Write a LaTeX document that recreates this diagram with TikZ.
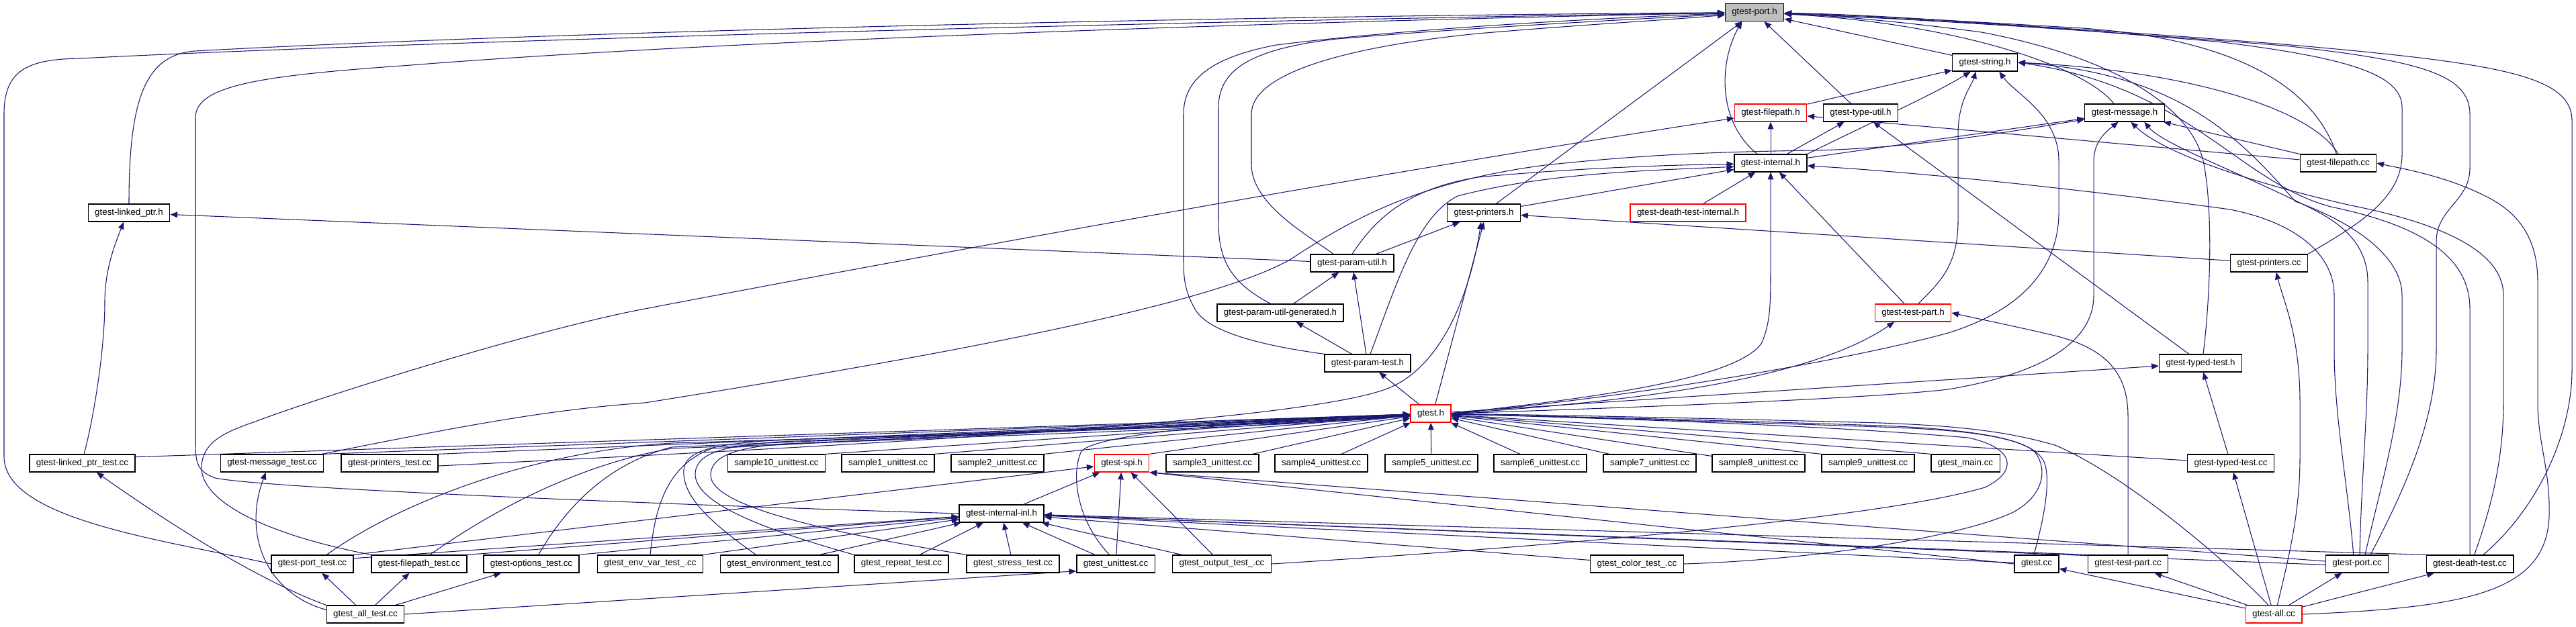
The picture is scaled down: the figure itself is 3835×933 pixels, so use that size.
\documentclass[tikz,border=0pt]{standalone}
\usepackage{fontspec}
\setmainfont{Liberation Sans}
\usetikzlibrary{arrows.meta}
\pgfdeclarelayer{bg}
\pgfsetlayers{bg,main}
\definecolor{eb}{HTML}{191970}
\definecolor{gf}{HTML}{BFBFBF}
\tikzset{
  nd/.style={draw=black, line width=1pt, fill=white, rectangle, minimum height=19.5pt, inner xsep=7.5pt, inner ysep=0pt, font=\fontsize{10}{12}\selectfont},
  rd/.style={nd, draw=red},
  gn/.style={nd, fill=gf},
  e/.style={draw=eb, line width=0.8pt, -{Triangle[length=8pt,width=6.5pt]}},
}
\begin{document}
\begin{tikzpicture}[x=0.75pt,y=-0.75pt]
\useasboundingbox (0,0) rectangle (3835,933);
% ---------------- nodes ----------------
\node[gn] (port) at (2612,18.5) {gtest-port.h};
\node[nd] (strh) at (2955,93) {gtest-string.h};
\node[rd] (fph) at (2636,168) {gtest-filepath.h};
\node[nd] (tu) at (2770,168) {gtest-type-util.h};
\node[nd] (msg) at (3163,168) {gtest-message.h};
\node[nd] (intl) at (2636,243) {gtest-internal.h};
\node[nd] (fpcc) at (3481,243) {gtest-filepath.cc};
\node[nd] (prh) at (2209,317) {gtest-printers.h};
\node[rd] (dti) at (2513,317) {gtest-death-test-internal.h};
\node[nd] (lp) at (192,317) {gtest-linked\_ptr.h};
\node[nd] (pu) at (2013,392) {gtest-param-util.h};
\node[nd] (prcc) at (3378,392) {gtest-printers.cc};
\node[nd] (pug) at (1906,466) {gtest-param-util-generated.h};
\node[rd] (tph) at (2848,466) {gtest-test-part.h};
\node[nd] (pt) at (2036,541) {gtest-param-test.h};
\node[nd] (tth) at (3276,541) {gtest-typed-test.h};
\node[rd] (gt) at (2130,616) {gtest.h};
% row 690
\node[nd] (lpt) at (122.5,690) {gtest-linked\_ptr\_test.cc};
\node[nd] (mt) at (405,690) {gtest-message\_test.cc};
\node[nd] (prt) at (580,690) {gtest-printers\_test.cc};
\node[nd] (sa) at (1156,690) {sample10\_unittest.cc};
\node[nd] (sb) at (1322,690) {sample1\_unittest.cc};
\node[nd] (sc) at (1485,690) {sample2\_unittest.cc};
\node[rd] (spi) at (1670,690) {gtest-spi.h};
\node[nd] (sd) at (1805,690) {sample3\_unittest.cc};
\node[nd] (se) at (1967,690) {sample4\_unittest.cc};
\node[nd] (sf) at (2131,690) {sample5\_unittest.cc};
\node[nd] (sg) at (2293,690) {sample6\_unittest.cc};
\node[nd] (sh) at (2456,690) {sample7\_unittest.cc};
\node[nd] (si) at (2618,690) {sample8\_unittest.cc};
\node[nd] (sj) at (2781,690) {sample9\_unittest.cc};
\node[nd] (gm) at (2926,690) {gtest\_main.cc};
\node[nd] (ttcc) at (3321,690) {gtest-typed-test.cc};
% inl
\node[nd] (inl) at (1491,765) {gtest-internal-inl.h};
% row 840
\node[nd] (ptt) at (465,840) {gtest-port\_test.cc};
\node[nd] (fpt) at (624,840) {gtest-filepath\_test.cc};
\node[nd] (ot) at (791,840) {gtest-options\_test.cc};
\node[nd] (ev) at (968,840) {gtest\_env\_var\_test\_.cc};
\node[nd] (envt) at (1160,840) {gtest\_environment\_test.cc};
\node[nd] (rep) at (1342,840) {gtest\_repeat\_test.cc};
\node[nd] (stt) at (1508,840) {gtest\_stress\_test.cc};
\node[nd] (ut) at (1661,840) {gtest\_unittest.cc};
\node[nd] (outt) at (1819,840) {gtest\_output\_test\_.cc};
\node[nd] (colt) at (2437,840) {gtest\_color\_test\_.cc};
\node[nd] (gcc) at (3032,840) {gtest.cc};
\node[nd] (tpcc) at (3168,840) {gtest-test-part.cc};
\node[nd] (pcc) at (3509,840) {gtest-port.cc};
\node[nd] (dtcc) at (3677,840) {gtest-death-test.cc};
% row 915
\node[nd] (alltest) at (544,915) {gtest\_all\_test.cc};
\node[rd] (gall) at (3385,915) {gtest-all.cc};
% ---------------- edges ----------------
\begin{pgfonlayer}{bg}
% headers
\draw[e] (strh) -- (port);
\draw[e] (fph) -- (strh);
\draw[e] (tu) -- (port);
\draw[e] ([xshift=-12pt]msg.north) .. controls (3100,95) and (2900,34) .. (port);
\draw[e] ([xshift=-15pt]intl.north) .. controls (2555,180) and (2560,90) .. ([xshift=-14pt]port.south);
\draw[e] (intl) -- (fph);
\draw[e] (intl) -- (tu);
\draw[e] (intl) -- (msg);
\draw[e] (intl.north east) .. controls (2780,185) and (2880,140) .. ([xshift=-16pt]strh.south);
\draw[e] (dti) -- (intl);
\draw[e] (prh) -- (intl);
\draw[e] (prh) -- (port);
\draw[e] (lp.north) .. controls (192,150) and (215,82) .. (290,76) .. controls (800,48) and (1800,24) .. (port);
\draw[e] (pu) -- (lp);
\draw[e] (pu) -- (prh);
\draw[e] (pu.north) .. controls (2045,330) and (2090,282) .. (2200,264) .. controls (2350,250) and (2480,246) .. ([yshift=-1pt]intl.west);
\draw[e] ([xshift=-21pt]pu.north) .. controls (1950,352) and (1863,305) .. (1863,245) -- (1863,170) .. controls (1863,110) and (2000,70) .. (2200,50) .. controls (2350,37) and (2480,30) .. (port);
\draw[e] (pug) -- (pu);
\draw[e] ([xshift=-11pt]pug.north) .. controls (1830,420) and (1814,385) .. (1814,330) -- (1814,160) .. controls (1814,100) and (1870,72) .. (1990,58) .. controls (2200,40) and (2450,28) .. (port);
\draw[e] (pt) -- (pug);
\draw[e] (pt) -- (pu);
\draw[e] ([xshift=3pt]pt.north) .. controls (2080,420) and (2110,322) .. (2170,292) .. controls (2300,258) and (2450,254) .. ([yshift=-4pt]intl.west);
\draw[e] (pt.north west) .. controls (1880,515) and (1800,495) .. (1780,462) .. controls (1766,438) and (1762,420) .. (1762,390) -- (1762,170) .. controls (1762,120) and (1800,86) .. (1900,67) .. controls (2100,42) and (2400,26) .. (port);
\draw[e] (tph) -- (intl);
\draw[e] ([xshift=6pt]tph.north) .. controls (2882,425) and (2915,400) .. (2915,330) -- (2915,200) .. controls (2915,150) and (2935,128) .. ([xshift=-10pt]strh.south);
\draw[e] ([xshift=-13pt]tth.north) -- ([xshift=14pt]tu.south);
\draw[e] ([xshift=3pt]tth.north) .. controls (3293,420) and (3293,300) .. (3280,240) .. controls (3262,160) and (3150,86) .. (2950,48) .. controls (2800,28) and (2700,22) .. (port);
\draw[e] (gt) -- (pt);
\draw[e] ([xshift=5pt]gt.north) -- (prh.south);
\draw[e] (gt.east) .. controls (2400,590) and (2585,562) .. (2622,512) .. controls (2636,482) and (2636,450) .. (2636,400) -- (intl.south);
\draw[e] (gt.east) .. controls (2450,598) and (2700,562) .. ([xshift=-21pt]tph.south);
\draw[e] (gt.east) .. controls (2500,585) and (2800,524) .. (2900,496) .. controls (3010,462) and (3063,400) .. (3065,320) -- (3065,240) .. controls (3065,170) and (3000,140) .. ([xshift=16pt]strh.south);
\draw[e] (gt.east) .. controls (2500,605) and (2800,592) .. (2900,580) .. controls (3050,555) and (3117,505) .. (3117,440) -- (3117,240) .. controls (3117,215) and (3130,200) .. ([xshift=-7pt]msg.south);
\draw[e] (gt) -- (tth);
% row 690
\draw[e] ([yshift=7pt]lpt.east) -- (gt);
\draw[e] ([xshift=2pt]lpt.north) .. controls (140,620) and (156,520) .. (156,450) .. controls (156,400) and (172,362) .. ([xshift=-6pt]lp.south);
\draw[e] (mt.north east) -- (gt);
\draw[e] ([xshift=-2pt]mt.north east) .. controls (700,632) and (820,610) .. (960,600) .. controls (1400,530) and (1800,455) .. (1920,387) .. controls (2000,335) and (2100,272) .. (2300,246) .. controls (2450,230) and (2560,226) .. (2700,224) .. controls (2850,221) and (3000,195) .. (msg);
\draw[e] (prt.north east) -- (gt);
\draw[e] ([yshift=-3pt]prt.east) .. controls (1300,662) and (1950,628) .. (2070,577) .. controls (2150,542) and (2190,430) .. ([xshift=-3pt]prh.south);
\draw[e] (sa.north east) -- (gt);
\draw[e] (sb.north east) -- (gt);
\draw[e] (sc.north east) -- (gt);
\draw[e] (spi.north east) -- (gt);
\draw[e] (sd) -- (gt);
\draw[e] (se) -- (gt);
\draw[e] (sf) -- (gt);
\draw[e] (sg) -- (gt);
\draw[e] (sh) -- (gt);
\draw[e] (si) -- (gt);
\draw[e] (sj.north west) -- (gt);
\draw[e] (gm.north west) -- (gt);
\draw[e] (ttcc) -- (gt);
\draw[e] (ttcc) -- (tth);
% inl
\draw[e] (inl.west) .. controls (1000,752) and (400,728) .. (320,712) .. controls (294,702) and (291,690) .. (291,660) -- (291,175) .. controls (291,125) and (400,112) .. (612,97) .. controls (1100,58) and (2000,30) .. (port);
\draw[e] (inl) -- (spi);
% bottom row
\draw[e] (ptt.west) .. controls (250,805) and (6,775) .. (6,680) -- (6,170) .. controls (6,105) and (40,88) .. (120,87) .. controls (600,62) and (1800,30) .. (port);
\draw[e] ([xshift=16pt]ptt.north) .. controls (600,745) and (800,672) .. (1000,660) .. controls (1500,645) and (1950,632) .. (gt);
\draw[e] ([yshift=-4pt]ptt.north east) -- (inl);
\draw[e] (ptt.north east) -- (spi);
\draw[e] (fpt.north west) .. controls (390,795) and (298,745) .. (300,695) .. controls (302,660) and (330,645) .. (380,628) .. controls (480,590) and (800,490) .. (960,460) .. controls (1300,395) and (2000,265) .. ([yshift=-6pt]fph.west);
\draw[e] ([xshift=12pt]fpt.north) .. controls (720,770) and (850,694) .. (1000,668) .. controls (1500,648) and (1950,634) .. (gt);
\draw[e] (fpt.north east) -- (inl);
\draw[e] ([xshift=8pt]ot.north) .. controls (840,760) and (900,692) .. (1000,666) .. controls (1500,644) and (1950,630) .. (gt);
\draw[e] (ot.north east) -- (inl);
\draw[e] (ev.north) .. controls (975,760) and (990,694) .. (1060,668) .. controls (1500,644) and (1950,628) .. (gt);
\draw[e] (ev.north east) -- (inl);
\draw[e] ([xshift=-26pt]envt.north) .. controls (1060,780) and (1015,740) .. (1018,700) .. controls (1020,672) and (1060,662) .. (1150,656) .. controls (1600,640) and (1950,626) .. (gt);
\draw[e] (envt) -- (inl);
\draw[e] (rep.north west) .. controls (1150,792) and (1033,752) .. (1035,705) .. controls (1037,674) and (1080,664) .. (1160,658) .. controls (1600,641) and (1950,624) .. (gt);
\draw[e] (rep) -- (inl);
\draw[e] (stt.north west) .. controls (1250,796) and (1058,756) .. (1058,708) .. controls (1058,678) and (1100,666) .. (1170,661) .. controls (1600,643) and (1950,622) .. (gt);
\draw[e] (stt) -- (inl);
\draw[e] ([xshift=-7pt]ut.north) .. controls (1600,772) and (1595,702) .. (1610,672) .. controls (1640,642) and (1900,626) .. (gt);
\draw[e] (ut) -- (inl);
\draw[e] (ut) -- (spi);
\draw[e] (outt.east) .. controls (2300,815) and (2800,772) .. (2955,726) .. controls (3005,702) and (3000,667) .. (2930,652) .. controls (2700,632) and (2350,622) .. (gt);
\draw[e] (outt) -- (inl);
\draw[e] (outt) -- (spi);
\draw[e] (colt.east) .. controls (2700,834) and (2920,800) .. (2997,763) .. controls (3040,740) and (3050,702) .. (3030,674) .. controls (3005,648) and (2900,638) .. (2800,634) .. controls (2500,624) and (2300,620) .. (gt);
\draw[e] (colt) -- (inl);
\draw[e] ([xshift=-3pt]gcc.north) .. controls (3040,782) and (3054,722) .. (3044,690) .. controls (3030,654) and (2950,641) .. (2800,636) .. controls (2500,626) and (2300,620) .. (gt);
\draw[e] (gcc) -- (inl);
\draw[e] (gcc.west) -- (spi.south east);
\draw[e] (tpcc.north) -- (3168,620) .. controls (3168,560) and (3140,520) .. (3059,500) .. controls (3000,486) and (2950,476) .. (tph.east);
\draw[e] (tpcc.north west) -- (inl);
\draw[e] ([yshift=3pt]pcc.west) -- (spi.south east);
\draw[e] ([yshift=-1pt]pcc.west) -- (inl);
\draw[e] ([xshift=-4pt]pcc.north) .. controls (3495,720) and (3475,620) .. (3475,520) -- (3475,440) .. controls (3475,380) and (3420,332) .. (3320,312) .. controls (3100,282) and (2850,256) .. ([yshift=-3pt]intl.east);
\draw[e] ([xshift=3pt]pcc.north) .. controls (3515,720) and (3525,620) .. (3525,520) -- (3525,420) .. controls (3525,360) and (3480,330) .. (3440,310) .. controls (3330,255) and (3220,215) .. ([xshift=22pt]msg.south);
\draw[e] ([xshift=9pt]pcc.north) .. controls (3545,720) and (3576,620) .. (3576,520) -- (3576,440) .. controls (3576,380) and (3500,330) .. (3417,300) .. controls (3330,200) and (3240,110) .. (strh.east);
\draw[e] ([xshift=15pt]pcc.north) .. controls (3585,720) and (3627,620) .. (3627,520) -- (3627,360) .. controls (3627,310) and (3677,300) .. (3677,250) -- (3677,170) .. controls (3677,110) and (3600,90) .. (3400,68) .. controls (3050,40) and (2800,26) .. (port);
\draw[e] (dtcc.north) -- (3677,460) .. controls (3677,380) and (3600,335) .. (3470,308) .. controls (3330,270) and (3260,130) .. (strh.east);
\draw[e] ([xshift=5pt]dtcc.north) .. controls (3700,780) and (3727,700) .. (3727,600) -- (3727,440) .. controls (3727,380) and (3650,336) .. (3500,306) .. controls (3350,272) and (3220,228) .. ([xshift=7pt]msg.south);
\draw[e] ([xshift=15pt]dtcc.north) .. controls (3775,760) and (3829,650) .. (3829,550) -- (3829,180) .. controls (3829,112) and (3720,94) .. (3400,66) .. controls (3050,38) and (2800,26) .. (port);
\draw[e] (dtcc.north west) -- (inl);
% printers.cc, filepath.cc
\draw[e] (prcc) -- (prh);
\draw[e] (prcc.north east) .. controls (3500,340) and (3576,300) .. (3576,230) -- (3576,160) .. controls (3576,112) and (3500,86) .. (3300,62) .. controls (3000,36) and (2800,22) .. (port);
\draw[e] (fpcc) -- (fph);
\draw[e] (fpcc) -- (msg);
\draw[e] (fpcc.north) .. controls (3440,160) and (3250,105) .. (strh.east);
\draw[e] ([xshift=-2pt]fpcc.north) .. controls (3440,115) and (3300,56) .. (3100,42) .. controls (2900,30) and (2750,22) .. (port);
% gtest_all_test.cc
\draw[e] (alltest.north west) .. controls (400,870) and (280,800) .. ([xshift=16pt]lpt.south);
\draw[e] ([yshift=5pt]alltest.west) .. controls (400,885) and (360,800) .. ([xshift=-7pt]mt.south);
\draw[e] (alltest) -- (ptt);
\draw[e] (alltest) -- (fpt);
\draw[e] (alltest) -- (ot);
\draw[e] (alltest.east) -- ([yshift=-8pt]ut.west);
% gtest-all.cc
\draw[e] (gall) -- (gcc);
\draw[e] (gall) -- (tpcc);
\draw[e] (gall) -- (pcc);
\draw[e] (gall) -- (dtcc);
\draw[e] (gall) -- (ttcc);
\draw[e] ([xshift=4pt]gall.north) .. controls (3410,820) and (3424,760) .. (3424,680) -- (3424,600) .. controls (3424,500) and (3400,450) .. ([xshift=8pt]prcc.south);
\draw[e] (gall.east) .. controls (3680,905) and (3790,880) .. (3795,770) .. controls (3797,700) and (3778,660) .. (3778,600) -- (3778,420) .. controls (3778,345) and (3740,312) .. (3700,292) .. controls (3640,262) and (3580,252) .. (fpcc.east);
\draw[e] ([xshift=-6pt]gall.north) .. controls (3300,820) and (3150,700) .. (3059,663) .. controls (2980,640) and (2900,634) .. (2800,630) .. controls (2500,622) and (2300,618) .. (gt);
\end{pgfonlayer}
\end{tikzpicture}
\end{document}
